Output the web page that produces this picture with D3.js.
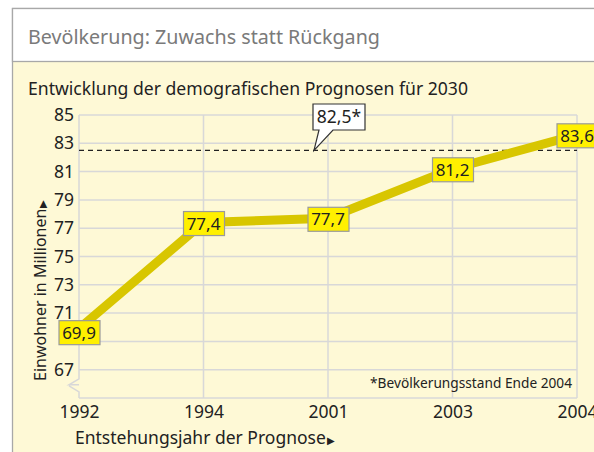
<!DOCTYPE html>
<html>
<head>
<meta charset="utf-8">
<script src="https://cdn.jsdelivr.net/npm/d3@7"></script>
<style>
body { margin: 0; background: #fff; }
text { font-family: "Noto Sans", sans-serif; }
</style>
</head>
<body>
<div class="content"></div>
<script>
var years = ["1992", "1994", "2001", "2003", "2004"];
var values = [69.9, 77.4, 77.7, 81.2, 83.6];
var valueLabels = ["69,9", "77,4", "77,7", "81,2", "83,6"];
var yTickValues = [67, 71, 73, 75, 77, 79, 81, 83, 85];
var gridValues = [67, 69, 71, 73, 75, 77, 79, 81, 83, 85];
var refValue = 82.5;
var refLabel = "82,5*";

var svg = d3.select(".content")
  .append("svg")
  .attr("width", 594)
  .attr("height", 452)

// frame: white title band, cream chart area
svg.append("rect")
  .attr("x", 12.5).attr("y", 8.5)
  .attr("width", 600).attr("height", 460)
  .attr("fill", "#fef9d6")
  .attr("stroke", "#a8a8a8").attr("stroke-width", 1.3)
svg.append("rect")
  .attr("x", 12.5).attr("y", 8.5)
  .attr("width", 600).attr("height", 53)
  .attr("fill", "#fff")
  .attr("stroke", "#a8a8a8").attr("stroke-width", 1.3)

svg.append("text")
  .attr("x", 28).attr("y", 44)
  .attr("fill", "#7a7a7a")
  .style("font-size", "19.7px")
  .text("Bevölkerung: Zuwachs statt Rückgang")

svg.append("text")
  .attr("x", 28).attr("y", 95)
  .attr("fill", "#222")
  .style("font-size", "17.6px")
  .text("Entwicklung der demografischen Prognosen für 2030")

var x = d3.scalePoint().domain(years).range([79, 577]);
var y = d3.scaleLinear().domain([65, 85]).range([398, 115]);

var grid = svg.append("g")
  .attr("stroke", "#d8d8d8")
  .attr("stroke-width", 1.5)
  .attr("fill", "none")

grid.selectAll("line.h")
  .data(gridValues.concat([65]))
  .enter()
  .append("line").attr("class", "h")
  .attr("x1", x(years[0])).attr("x2", x(years[years.length - 1]))
  .attr("y1", function(d) { return y(d); })
  .attr("y2", function(d) { return y(d); })

grid.selectAll("line.v")
  .data(years.slice(1))
  .enter()
  .append("line").attr("class", "v")
  .attr("x1", function(d) { return x(d); })
  .attr("x2", function(d) { return x(d); })
  .attr("y1", y(85)).attr("y2", y(65))

// left axis with break symbol
var x0 = x(years[0]);
grid.append("path")
  .attr("d", "M" + x0 + "," + y(85) + "V" + (y(66) - 5) +
    "L" + (x0 - 10) + "," + (y(66) + 1) + "H" + x0 +
    "L" + (x0 - 10) + "," + (y(66) + 1) +
    "M" + (x0 - 10) + "," + (y(66) + 2) + "L" + x0 + "," + (y(66) + 8) +
    "V" + y(65))

// y axis
var yAxis = svg.append("g")
  .attr("transform", "translate(" + x0 + ",0)")
  .call(d3.axisLeft(y).tickValues(yTickValues).tickSize(0).tickPadding(5).tickFormat(d3.format("d")))
yAxis.select(".domain").remove()
yAxis.selectAll("text")
  .attr("fill", "#222")
  .style("font-size", "17.5px")
  .style("font-family", "'Noto Sans', sans-serif")

// x axis
var xAxis = svg.append("g")
  .attr("transform", "translate(0," + y(65) + ")")
  .call(d3.axisBottom(x).tickSize(0).tickPadding(8))
xAxis.select(".domain").remove()
xAxis.selectAll("text")
  .attr("fill", "#222")
  .style("font-size", "17.5px")
  .style("font-family", "'Noto Sans', sans-serif")

// axis titles
var yTitle = svg.append("text")
  .attr("transform", "translate(46,381) rotate(-90)")
  .attr("fill", "#222")
  .style("font-size", "16px")
yTitle.append("tspan").text("Einwohner in Millionen")
yTitle.append("tspan").style("font-size", "10px").attr("dx", 1).text("\u25B6")

var xTitle = svg.append("text")
  .attr("x", 75).attr("y", 444)
  .attr("fill", "#222")
  .style("font-size", "17.5px")
xTitle.append("tspan").text("Entstehungsjahr der Prognose")
xTitle.append("tspan").style("font-size", "10px").attr("dx", 1).text("\u25B6")

// footnote
svg.append("text")
  .attr("x", 572).attr("y", 388)
  .attr("text-anchor", "end")
  .attr("fill", "#222")
  .style("font-size", "13.7px")
  .text("*Bevölkerungsstand Ende 2004")

// reference line 82.5
svg.append("line")
  .attr("x1", x0).attr("x2", x(years[years.length - 1]))
  .attr("y1", y(refValue)).attr("y2", y(refValue))
  .attr("stroke", "#222")
  .attr("stroke-width", 1.3)
  .attr("stroke-dasharray", "5,4")

// callout for reference value
var ax = x("2001") - 14, ay = y(refValue);
var bx = ax - 1, by = 104, bw = 52, bh = 26;
svg.append("path")
  .attr("d", "M" + bx + "," + by + "H" + (bx + bw) + "V" + (by + bh) +
    "H" + (bx + 20) + "L" + ax + "," + ay + "L" + (bx + 6) + "," + (by + bh) +
    "H" + bx + "Z")
  .attr("fill", "#fff")
  .attr("stroke", "#333")
  .attr("stroke-width", 1.2)
svg.append("text")
  .attr("x", bx + bw / 2).attr("y", by + 19)
  .attr("text-anchor", "middle")
  .attr("fill", "#222")
  .style("font-size", "17.5px")
  .text(refLabel)

// data line
var line = d3.line()
  .x(function(d, i) { return x(years[i]); })
  .y(function(d) { return y(d); })

svg.append("path")
  .datum(values)
  .attr("d", line)
  .attr("fill", "none")
  .attr("stroke", "#d8c600")
  .attr("stroke-width", 9)

// value labels
var g = svg.selectAll("g.lbl")
  .data(values)
  .enter()
  .append("g").attr("class", "lbl")
  .attr("transform", function(d, i) {
    return "translate(" + x(years[i]) + "," + (y(d) + (i == 0 ? 4 : 1)) + ")";
  })

g.append("rect")
  .attr("x", -20).attr("y", -12)
  .attr("width", 41).attr("height", 24)
  .attr("fill", "#fff000")
  .attr("stroke", "#9a9a9a")
  .attr("stroke-width", 1.2)

g.append("text")
  .attr("y", 6)
  .attr("text-anchor", "middle")
  .attr("fill", "#222")
  .style("font-size", "17px")
  .text(function(d, i) { return valueLabels[i]; })
</script>
</body>
</html>
